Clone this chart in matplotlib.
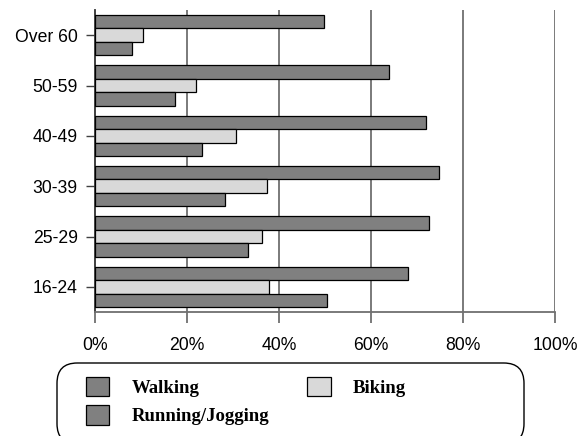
import matplotlib
matplotlib.use("Agg")
import matplotlib.pyplot as plt
import numpy as np
from matplotlib.patches import FancyBboxPatch

categories = ["16-24", "25-29", "30-39", "40-49", "50-59", "Over 60"]
walking = [68.1, 72.5, 74.7, 71.9, 64.0, 49.7]
biking = [37.9, 36.2, 37.4, 30.7, 21.9, 10.5]
running = [50.4, 33.2, 28.3, 23.3, 17.3, 8.1]
xticks = [0, 20, 40, 60, 80, 100]
xticklabels = ["0%", "20%", "40%", "60%", "80%", "100%"]

W, H = 579, 436
fig = plt.figure(figsize=(W / 100, H / 100), dpi=100)
ax = fig.add_axes([95 / W, 1 - 312 / H, (555 - 95) / W, (312 - 10) / H])

y = np.arange(len(categories))
h = 0.268
dark = "#808080"
light = "#d9d9d9"
ax.barh(y + h, walking, height=h, color=dark, edgecolor="black", linewidth=0.9, label="Walking", zorder=3)
ax.barh(y, biking, height=h, color=light, edgecolor="black", linewidth=0.9, label="Biking", zorder=3)
ax.barh(y - h, running, height=h, color=dark, edgecolor="black", linewidth=0.9, label="Running/Jogging", zorder=3)

ax.set_xlim(0, 100)
ax.set_ylim(-0.5, 5.5)
ax.set_yticks(y)
ax.set_yticklabels(categories, fontfamily="Liberation Sans", fontsize=12.7)
ax.set_xticks(xticks)
ax.set_xticklabels(xticklabels, fontfamily="Liberation Sans", fontsize=12.7)

for x in xticks[1:]:
    ax.axvline(x, color="#707070", linewidth=1.3, zorder=1)
for s in ["top", "right"]:
    ax.spines[s].set_visible(False)
ax.spines["bottom"].set_color("#707070")
ax.spines["bottom"].set_linewidth(1.3)
ax.spines["left"].set_color("#303030")
ax.spines["left"].set_linewidth(1.3)
ax.tick_params(axis="x", length=8, width=1.3, color="#707070", pad=10)
ax.tick_params(axis="y", length=6.5, width=1.0, color="#404040", pad=6)

# legend box
box = FancyBboxPatch((57 / W, 1 - 444 / H), (524 - 57) / W, (444 - 363) / H,
                     boxstyle="round,pad=0,rounding_size=0.035",
                     transform=fig.transFigure, facecolor="white", edgecolor="black",
                     linewidth=1.0, mutation_aspect=W / H)
fig.patches.append(box)

handles, labels = ax.get_legend_handles_labels()
order = [0, 2, 1]
fig.legend([handles[i] for i in order], [labels[i] for i in order],
           loc="upper left", bbox_to_anchor=(86 / W, 1 - 377 / H), ncol=2,
           frameon=False, borderpad=0, borderaxespad=0,
           prop={"family": "Liberation Serif", "weight": "bold", "size": 13.5},
           handlelength=1.25, handleheight=1.2, handletextpad=1.2,
           labelspacing=0.45, columnspacing=2.0)

fig.savefig("out.png", dpi=100)
